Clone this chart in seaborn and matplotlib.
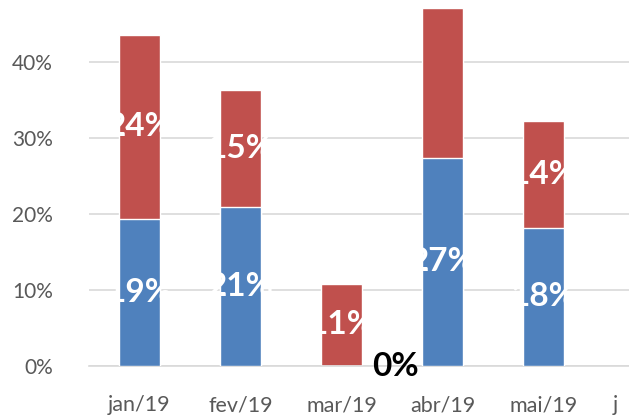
import numpy as np
import pandas as pd
import matplotlib
matplotlib.use("Agg")
import matplotlib.pyplot as plt
import seaborn as sns
from matplotlib.ticker import PercentFormatter, FixedLocator
from matplotlib.patches import Rectangle

months = ["jan/19", "fev/19", "mar/19", "abr/19", "mai/19", "jun/19"]
blue_vals = [0.194, 0.21, 0.0, 0.274, 0.182, np.nan]
red_vals = [0.242, 0.153, 0.108, 0.197, 0.14, np.nan]
# the red label for abr/19 is not shown in the original
show_red_label = [True, True, True, False, True, False]

BLUE = "#4F81BD"
RED = "#C0504D"
GRID = "#D9D9D9"
TXT = "#595959"

sns.set_style("white")
plt.rcParams["font.family"] = ["Lato", "DejaVu Sans"]

df = pd.DataFrame({"mes": months, "azul": blue_vals, "vermelho": red_vals})
df["total"] = df["azul"] + df["vermelho"]

fig = plt.figure(figsize=(6.29, 4.20), dpi=100)
# axes run past the right edge of the figure, as in the cropped original
ax = fig.add_axes([89 / 629, 54 / 420, 606 / 629, 366 / 420])

sns.barplot(data=df, x="mes", y="total", color=RED, saturation=1, width=0.4, ax=ax, zorder=2)
sns.barplot(data=df, x="mes", y="azul", color=BLUE, saturation=1, width=0.4, ax=ax, zorder=3)

ax.set_ylim(0, 0.482)
ax.set_xlim(-0.5, len(months) - 0.5)
ax.set_yticks([0, 0.1, 0.2, 0.3, 0.4])
ax.yaxis.set_major_formatter(PercentFormatter(1.0, decimals=0))
ax.yaxis.grid(True, color=GRID, lw=1.2, zorder=0)
ax.set_axisbelow(True)
ax.set_xlabel("")
ax.set_ylabel("")

for s in ["top", "right", "left"]:
    ax.spines[s].set_visible(False)
ax.spines["bottom"].set_color(GRID)
ax.spines["bottom"].set_linewidth(1.2)

ax.tick_params(axis="y", length=0, pad=26, labelsize=15, labelcolor=TXT)
ax.tick_params(axis="x", which="major", length=0, pad=21, labelsize=15.5, labelcolor=TXT)
ax.xaxis.set_minor_locator(FixedLocator(np.arange(-0.5, len(months), 1.0)))
ax.tick_params(axis="x", which="minor", length=6, width=1.2, color=GRID)

# the original chart cuts the last month label after its first letter
clip = Rectangle((0, 0), 618 / 629, 1, transform=fig.transFigure, visible=False)
fig.add_artist(clip)
last = ax.get_xticklabels()[-1]
last.set_clip_on(True)
last.set_clip_path(clip)

for i in range(len(months)):
    b = blue_vals[i]
    r = red_vals[i]
    if np.isnan(b):
        continue
    if b > 0:
        ax.text(i, b / 2, f"{round(b * 100)}%", ha="center", va="center",
                color="white", fontsize=24, fontweight="bold", zorder=5)
    else:
        ax.text(i + 0.53, b, f"{round(b * 100)}%", ha="center", va="center",
                color="black", fontsize=24, fontweight="bold", zorder=5, clip_on=False)
    if show_red_label[i]:
        ax.text(i, b + r / 2, f"{round(r * 100)}%", ha="center", va="center",
                color="white", fontsize=24, fontweight="bold", zorder=5)

fig.savefig("out.png", dpi=100)
